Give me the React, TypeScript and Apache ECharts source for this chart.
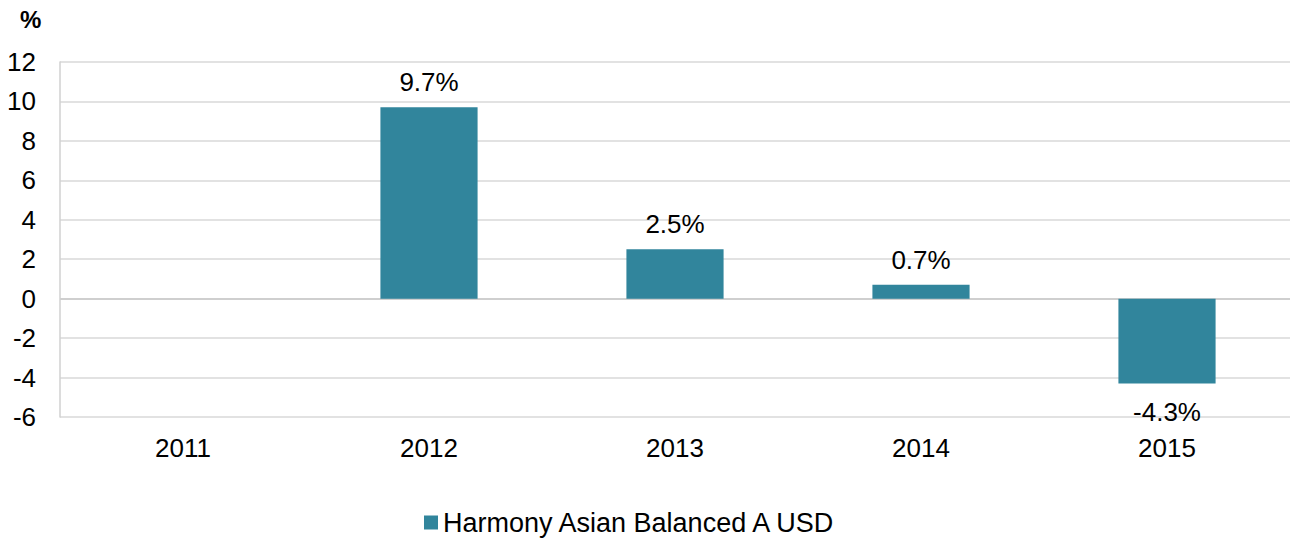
import React, { useEffect, useRef } from "react";
import * as echarts from "echarts";

const categories = ["2011", "2012", "2013", "2014", "2015"];
const seriesName = "Harmony Asian Balanced A USD";
const values: (number | null)[] = [null, 9.7, 2.5, 0.7, -4.3];
const yMin = -6;
const yMax = 12;
const yInterval = 2;

export default function App() {
  const ref = useRef<HTMLDivElement>(null);
  useEffect(() => {
    document.body.style.margin = "0";
    const chart = echarts.init(ref.current!, null, { renderer: "svg" });
    const font = "Liberation Sans, Arial, sans-serif";
    const gridColors: string[] = [];
    for (let v = yMin; v <= yMax; v += yInterval) gridColors.push(v === 0 ? "#bfbfbf" : "#d9d9d9");
    chart.setOption({
      animation: false,
      textStyle: { fontFamily: font },
      grid: { left: 60, right: 8, top: 62, bottom: 125 },
      graphic: [
        {
          type: "text",
          left: 20,
          top: 7,
          style: { text: "%", font: "bold 24px " + font, fill: "#000" },
        },
      ],
      legend: {
        bottom: 1,
        left: 419,
        itemWidth: 14,
        itemHeight: 14,
        itemGap: 6,
        icon: "rect",
        textStyle: { fontSize: 27, color: "#000", fontFamily: font },
        data: [seriesName],
      },
      xAxis: {
        type: "category",
        data: categories,
        axisLine: { show: false },
        axisTick: { show: false },
        axisLabel: { fontSize: 26, color: "#000", margin: 18 },
      },
      yAxis: {
        type: "value",
        min: yMin,
        max: yMax,
        interval: yInterval,
        axisLine: { show: true, lineStyle: { color: "#d0d0d0", width: 1.5 } },
        axisTick: { show: false },
        axisLabel: { fontSize: 26, color: "#000", margin: 24 },
        splitLine: { show: true, lineStyle: { color: gridColors, width: 1.5 } },
      },
      series: [
        {
          name: seriesName,
          type: "bar",
          data: values.map((v) =>
            v !== null && v < 0
              ? { value: v, label: { position: "bottom", distance: 16 } }
              : v
          ),
          barWidth: "39.5%",
          itemStyle: { color: "#31859c" },
          label: {
            show: true,
            position: "top",
            distance: 12,
            fontSize: 26,
            color: "#000",
            formatter: (p: any) => p.value.toFixed(1) + "%",
          },
        },
      ],
    });
    return () => chart.dispose();
  }, []);
  return <div ref={ref} style={{ width: 1298, height: 542 }} />;
}
